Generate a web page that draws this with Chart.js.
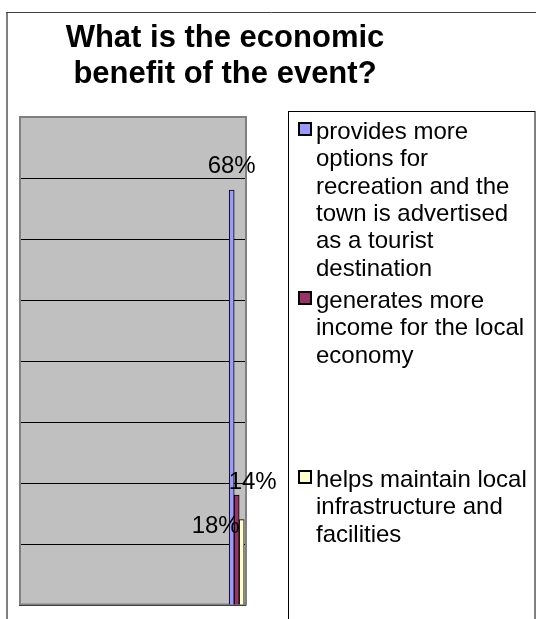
<!DOCTYPE html>
<html><head><meta charset="utf-8">
<script src="https://cdn.jsdelivr.net/npm/chart.js@4.4.1/dist/chart.umd.min.js"></script>
<style>html,body{margin:0;padding:0;background:#fff;}#wrap{position:relative;width:536px;height:619px;}</style>
</head><body><div id="wrap"><canvas id="c" width="536" height="619"></canvas></div>
<script>
const chartTitle = ['What is the economic', 'benefit of the event?'];
const seriesNames = [
  ['provides more', 'options for', 'recreation and the', 'town is advertised', 'as a tourist', 'destination'],
  ['generates more', 'income for the local', 'economy'],
  ['helps maintain local', 'infrastructure and', 'facilities']
];
const seriesValues = [68, 18, 14];
const seriesColors = ['#9999FF', '#993366', '#FFFFCC'];
const yMin = 0, yMax = 80, yStep = 10;
const categoryPosition = 0.959;

const FONT = '"Liberation Sans", Arial, sans-serif';

const decor = {
  id: 'decor',
  beforeDraw(chart) {
    const ctx = chart.ctx, ca = chart.chartArea;
    ctx.save();
    ctx.fillStyle = '#fff';
    ctx.fillRect(0, 0, chart.width, chart.height);
    ctx.strokeStyle = '#808080';
    ctx.lineWidth = 2;
    ctx.beginPath(); ctx.moveTo(7, 12); ctx.lineTo(7, chart.height + 5); ctx.stroke();
    ctx.strokeStyle = '#404040';
    ctx.lineWidth = 1;
    ctx.beginPath(); ctx.moveTo(6, 12.5); ctx.lineTo(chart.width + 5, 12.5); ctx.stroke();
    ctx.fillStyle = '#C0C0C0';
    ctx.fillRect(ca.left, ca.top, ca.width, ca.height);
    ctx.restore();
  },
  beforeDatasetsDraw(chart) {
    const ctx = chart.ctx, ca = chart.chartArea;
    ctx.save();
    ctx.strokeStyle = '#808080';
    ctx.lineWidth = 2;
    ctx.strokeRect(ca.left + 1, ca.top, ca.width - 1, ca.height - 0.5);
    ctx.restore();
  },
  afterDatasetsDraw(chart, args, opts) {
    const ctx = chart.ctx;
    ctx.save();
    ctx.font = '24px ' + FONT;
    ctx.fillStyle = '#000';
    ctx.textAlign = 'center';
    ctx.textBaseline = 'alphabetic';
    chart.data.datasets.forEach((ds, i) => {
      const el = chart.getDatasetMeta(i).data[0];
      const off = opts.labelOffsets[i];
      ctx.fillText(ds.data[0].y + '%', el.x + off[0], el.y + off[1]);
    });
    ctx.restore();
  },
  afterDraw(chart, args, opts) {
    const ctx = chart.ctx;
    ctx.save();
    ctx.font = 'bold 31px ' + FONT;
    ctx.fillStyle = '#000';
    ctx.textAlign = 'center';
    chartTitle.forEach((t, i) => ctx.fillText(t, 225, 47 + i * 36));
    ctx.strokeStyle = '#000';
    ctx.lineWidth = 1;
    ctx.strokeRect(288.5, 111.5, 246.5, 600);
    ctx.font = '24px ' + FONT;
    ctx.textAlign = 'left';
    chart.data.datasets.forEach((ds, i) => {
      const base = opts.legendBaselines[i];
      ctx.fillStyle = ds.backgroundColor;
      ctx.fillRect(298, base - 17, 14, 14);
      ctx.strokeStyle = '#000';
      ctx.lineWidth = 2;
      ctx.strokeRect(299, base - 16, 12, 12);
      ctx.fillStyle = '#000';
      seriesNames[i].forEach((line, j) => ctx.fillText(line, 316, base + j * 27.3));
    });
    ctx.restore();
  }
};

new Chart(document.getElementById('c'), {
  type: 'bar',
  data: {
    datasets: seriesNames.map((n, i) => ({
      label: n.join(' '),
      data: [{ x: categoryPosition, y: seriesValues[i] }],
      backgroundColor: seriesColors[i],
      borderColor: '#000',
      borderWidth: 1,
      barThickness: 5
    }))
  },
  options: {
    responsive: false,
    animation: false,
    events: [],
    layout: { padding: { left: 19, top: 117, right: 290, bottom: 14 } },
    scales: {
      x: { type: 'linear', min: 0, max: 1, offset: false, display: false },
      y: {
        min: yMin, max: yMax,
        ticks: { display: false, stepSize: yStep },
        grid: { color: '#000', lineWidth: 1, drawTicks: false },
        border: { display: false }
      }
    },
    plugins: {
      legend: { display: false },
      tooltip: { enabled: false },
      title: { display: false },
      decor: {
        labelOffsets: [[0, -17], [-21, 38], [11, -31]],
        legendBaselines: [139, 308, 487]
      }
    }
  },
  plugins: [decor]
});
</script></body></html>
